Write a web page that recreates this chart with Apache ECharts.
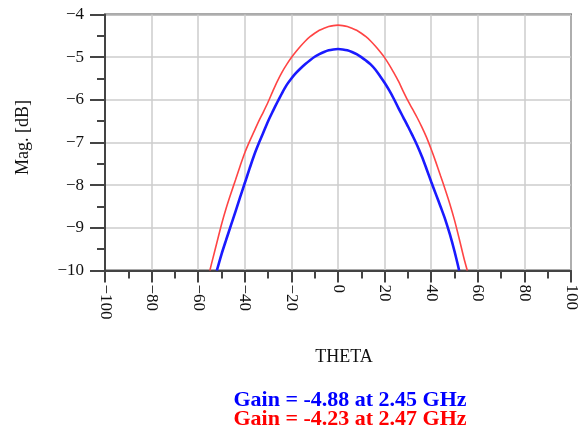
<!DOCTYPE html>
<html>
<head>
<meta charset="utf-8">
<script src="https://cdn.jsdelivr.net/npm/echarts@6/dist/echarts.min.js"></script>
<style>html,body{margin:0;padding:0;background:#fff;}#c{width:586px;height:437px;}</style>
</head>
<body>
<div id="c"></div>
<script>
const thetaBlue = [-52,-50,-48,-46,-44,-42,-40,-38,-36,-34,-32,-30,-28,-26,-24,-22,-20,-18,-16,-14,-12,-10,-8,-6,-4,-2,0,2,4,6,8,10,12,14,16,18,20,22,24,26,28,30,32,34,36,38,40,42,44,46,48,50,52];
const gainBlue = [-10,-9.62,-9.28,-8.95,-8.62,-8.28,-7.95,-7.62,-7.3,-7.02,-6.76,-6.5,-6.27,-6.05,-5.84,-5.65,-5.5,-5.37,-5.26,-5.16,-5.07,-4.99,-4.93,-4.88,-4.84,-4.82,-4.81,-4.82,-4.84,-4.88,-4.93,-5.0,-5.08,-5.17,-5.29,-5.44,-5.6,-5.78,-5.98,-6.2,-6.41,-6.62,-6.84,-7.07,-7.33,-7.62,-7.92,-8.21,-8.5,-8.8,-9.15,-9.55,-10];
const thetaRed = [-55,-54,-52,-50,-48,-46,-44,-42,-40,-38,-36,-34,-32,-30,-28,-26,-24,-22,-20,-18,-16,-14,-12,-10,-8,-6,-4,-2,0,2,4,6,8,10,12,14,16,18,20,22,24,26,28,30,32,34,36,38,40,42,44,46,48,50,52,54,55.5];
const gainRed = [-10,-9.78,-9.35,-8.92,-8.54,-8.2,-7.88,-7.55,-7.24,-6.98,-6.74,-6.5,-6.28,-6.05,-5.8,-5.56,-5.35,-5.17,-5.01,-4.87,-4.74,-4.62,-4.52,-4.44,-4.37,-4.32,-4.28,-4.26,-4.25,-4.26,-4.28,-4.32,-4.37,-4.44,-4.52,-4.62,-4.74,-4.87,-5.01,-5.18,-5.37,-5.57,-5.8,-6.02,-6.22,-6.42,-6.64,-6.88,-7.16,-7.46,-7.78,-8.1,-8.44,-8.82,-9.25,-9.7,-10];
const xTicks = {min:-100, max:100, step:20};
const yTicks = {min:-10, max:-4, step:1};
const legendTexts = ['Gain = -4.88 at 2.45 GHz', 'Gain = -4.23 at 2.47 GHz'];
const axisNames = {x:'THETA', y:'Mag. [dB]'};

const serif = '"Liberation Serif", "DejaVu Serif", serif';
const minus = v => String(v).replace('-', '\u2212');
const pairs = (xs, ys) => xs.map((x, i) => [x, ys[i]]);

const chart = echarts.init(document.getElementById('c'));
chart.setOption({
  animation: false,
  backgroundColor: '#fff',
  grid: {left:105, top:14.5, width:466, height:256, show:true, borderColor:'#555', borderWidth:2, backgroundColor:'transparent'},
  xAxis: {
    type:'value', min:xTicks.min, max:xTicks.max, interval:xTicks.step,
    name: axisNames.x, nameLocation:'middle', nameGap:78,
    nameTextStyle:{fontFamily:serif, fontSize:18, color:'#111', padding:[0,0,0,12]},
    axisLine:{show:true, onZero:false, lineStyle:{color:'#444', width:2}},
    axisTick:{show:true, inside:false, length:12, lineStyle:{color:'#444', width:2}},
    minorTick:{show:true, splitNumber:2, length:8, lineStyle:{color:'#444', width:2}},
    axisLabel:{rotate:-90, margin:14, fontFamily:serif, fontSize:17, color:'#111', formatter:minus},
    splitLine:{show:true, lineStyle:{color:'#cccccc', width:1.5}}
  },
  yAxis: {
    type:'value', min:yTicks.min, max:yTicks.max, interval:yTicks.step,
    name: axisNames.y, nameLocation:'middle', nameGap:73,
    nameTextStyle:{fontFamily:serif, fontSize:18, color:'#111', padding:[0,0,0,10]},
    axisLine:{show:true, onZero:false, lineStyle:{color:'#444', width:2}},
    axisTick:{show:true, inside:false, length:15, lineStyle:{color:'#444', width:2}},
    minorTick:{show:true, splitNumber:2, length:8, lineStyle:{color:'#444', width:2}},
    axisLabel:{margin:21, fontFamily:serif, fontSize:17, color:'#111', formatter:minus},
    splitLine:{show:true, lineStyle:{color:'#cccccc', width:1.5}}
  },
  series: [
    {type:'line', data:pairs(thetaRed, gainRed), showSymbol:false, smooth:0.3, clip:true,
     lineStyle:{color:'#ff4444', width:1.6}},
    {type:'line', data:pairs(thetaBlue, gainBlue), showSymbol:false, smooth:0.3, clip:true,
     lineStyle:{color:'#1a1aff', width:2.6}}
  ],
  graphic: [
    {type:'text', x:350, y:400, style:{text:legendTexts[0], fill:'#0000ff', font:'bold 22px ' + serif, align:'center', verticalAlign:'middle'}},
    {type:'text', x:350, y:419, style:{text:legendTexts[1], fill:'#ff0000', font:'bold 22px ' + serif, align:'center', verticalAlign:'middle'}}
  ]
});
</script>
</body>
</html>
